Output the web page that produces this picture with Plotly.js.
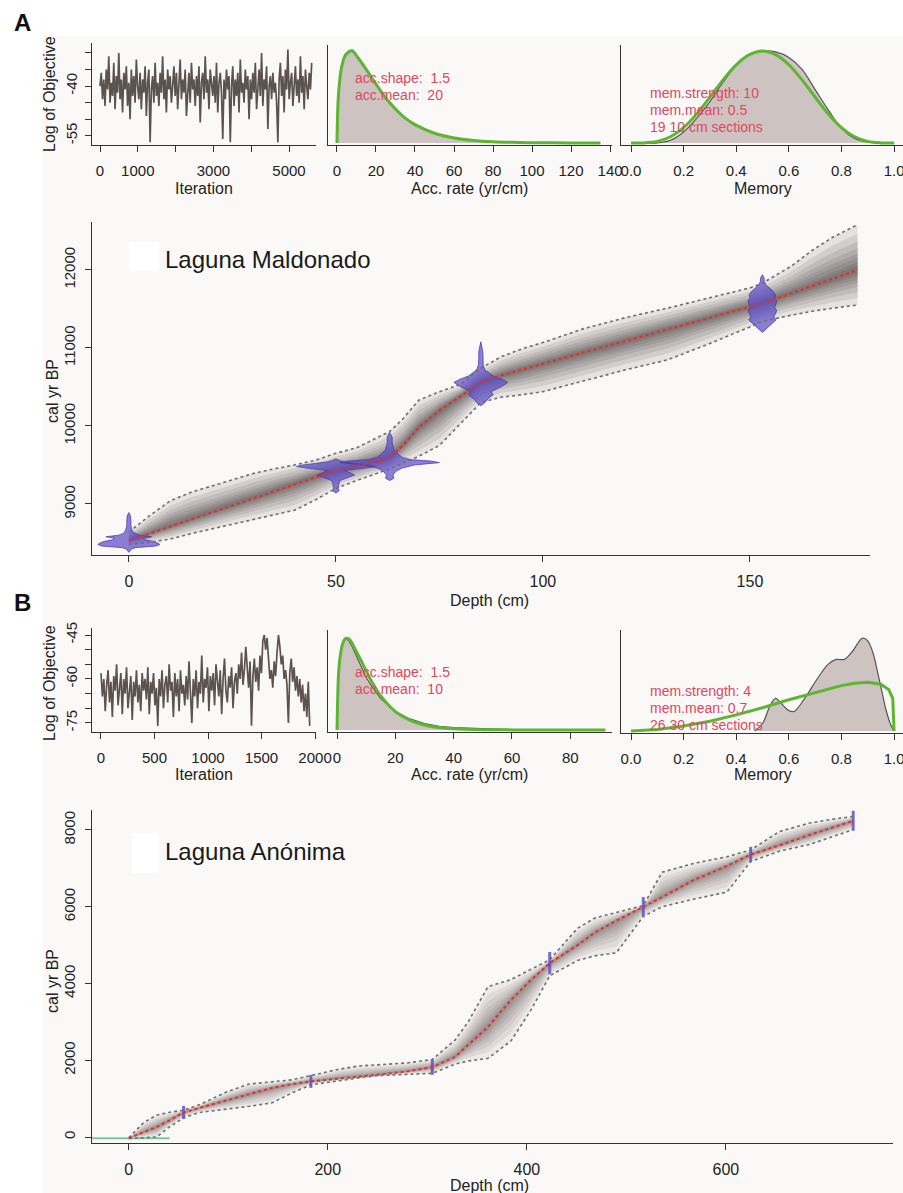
<!DOCTYPE html>
<html><head><meta charset="utf-8">
<script src="https://cdn.plot.ly/plotly-3.0.1.min.js"></script>
<style>html,body{margin:0;padding:0;background:#fff}#chart{width:903px;height:1193px}</style>
</head><body><div id="chart"></div>
<script>
// ---------------- DATA ----------------
// Panel A: MCMC log objective trace (Laguna Maldonado)
const traceA = [-40,-36,-44,-38,-46,-35,-41,-31,-45,-39,-43,-33,-47,-37,-42,-30,-44,-38,-48,-36,
-41,-34,-46,-39,-50,-35,-43,-37,-45,-32,-40,-44,-36,-47,-38,-42,-34,-49,-39,-35,
-57,-41,-37,-45,-33,-43,-39,-46,-36,-42,-31,-44,-38,-48,-35,-41,-37,-45,-40,-34,
-43,-36,-47,-39,-32,-44,-38,-42,-35,-49,-40,-36,-45,-33,-41,-38,-46,-37,-43,-34,
-51,-39,-36,-44,-31,-42,-38,-47,-35,-40,-43,-37,-45,-33,-48,-39,-36,-42,-56,-38,
-44,-35,-41,-37,-57,-40,-34,-46,-38,-43,-36,-48,-32,-42,-39,-45,-35,-41,-37,-50,
-38,-44,-36,-42,-33,-47,-39,-35,-43,-30,-46,-38,-41,-34,-53,-40,-37,-44,-36,-42,
-39,-45,-57,-38,-33,-43,-37,-48,-35,-41,-29,-44,-39,-36,-46,-40,-34,-43,-38,-45,
-31,-42,-37,-47,-35,-40,-44,-36,-41,-33];
const traceA_lastIter = 5600;

// Panel A: accumulation rate prior (green) and posterior (grey)
const accA_x     = [0,0.5,1,2,3,4,6,8,10,12,15,20,25,30,35,40,50,60,70,80,90,100,120,135];
const accA_prior = [0,0.42,0.59,0.78,0.88,0.94,0.99,1.0,0.95,0.89,0.80,0.64,0.49,0.37,0.27,0.20,0.106,0.055,0.028,0.014,0.007,0.003,0.001,0];
const accA_post  = [0,0.40,0.60,0.80,0.90,0.96,1.0,1.01,0.96,0.90,0.80,0.63,0.48,0.36,0.27,0.19,0.10,0.05,0.026,0.013,0.006,0.003,0.001,0];

// Panel A: memory prior / posterior
const memA_x     = [0,0.05,0.1,0.15,0.2,0.25,0.3,0.35,0.4,0.45,0.5,0.55,0.6,0.65,0.7,0.75,0.8,0.85,0.9,0.95,1.0];
const memA_prior = [0,0.001,0.017,0.068,0.168,0.316,0.498,0.686,0.85,0.96,1.0,0.96,0.85,0.686,0.498,0.316,0.168,0.068,0.017,0.001,0];
const memA_post  = [0,0,0,0.03,0.12,0.27,0.45,0.66,0.84,0.96,1.0,0.99,0.93,0.80,0.58,0.36,0.16,0.05,0.01,0,0];

// Panel A: age-depth model
const depthA = [0,5,10,15,20,25,30,35,40,45,50,55,60,63,66,70,75,80,85,90,95,100,110,120,130,140,150,153,160,165,170,176];
const meanA  = [8530,8620,8720,8810,8900,8990,9080,9170,9260,9350,9430,9490,9545,9590,9740,9980,10200,10380,10560,10650,10725,10800,10945,11090,11240,11385,11530,11570,11700,11790,11885,12000];
const upperA = [8640,8850,9040,9150,9230,9310,9390,9450,9500,9560,9650,9720,9850,9930,10080,10330,10440,10530,10740,10890,10990,11070,11250,11390,11510,11640,11770,11830,12050,12250,12420,12580];
const lowerA = [8480,8510,8550,8620,8680,8740,8795,8860,8920,9050,9200,9300,9390,9450,9520,9610,9750,10030,10300,10370,10400,10440,10580,10720,10846,11050,11270,11340,11420,11470,11510,11550];

// Panel A: calibrated dates (depth, age profile, half-width of probability in cm)
const datesA_depth = [0,50,63,85,153];
const datesA_ages = [
  [8380,8420,8440,8460,8480,8500,8520,8540,8560,8580,8600,8620,8640,8680,8720,8780,8850,8890],
  [9140,9170,9200,9250,9300,9340,9370,9400,9430,9460,9480,9500,9520,9540,9560,9580],
  [9300,9330,9370,9420,9460,9500,9530,9550,9570,9600,9640,9700,9780,9860,9920],
  [10260,10300,10350,10400,10440,10480,10520,10560,10600,10640,10680,10720,10780,10850,10950,11080],
  [11200,11240,11280,11320,11360,11400,11440,11480,11520,11560,11600,11640,11680,11720,11760,11800,11850,11900,11940]
];
const datesA_width = [
  [0,0.6,1.5,6.5,7.5,7,6,4,3.5,5.5,2.5,1.5,1,0.7,0.5,0.5,0.4,0],
  [0,0.8,0.6,0.7,1,3,4.5,3.5,2,7,9.5,8,5,2,0.8,0],
  [0,1,0.8,1.5,3,6,12,10,5,3,2,1,0.6,0.6,0],
  [0,1,1.8,3,2.5,4,5.5,6.5,5,3,2,1,0.6,0.5,0.5,0],
  [0,0.8,1.8,2.5,3.3,2.8,3.2,3.5,3,3.3,3.5,3,3.2,2.7,2,1,0.5,0.4,0]
];

// Panel B: MCMC trace (Laguna Anónima)
const traceB = [-58,-66,-60,-71,-62,-57,-68,-61,-73,-59,
-64,-55,-69,-62,-58,-72,-60,-65,-56,-70,
-63,-59,-74,-61,-66,-57,-68,-62,-71,-58,
-64,-60,-67,-56,-72,-61,-65,-58,-69,-63,
-76,-60,-66,-57,-70,-62,-59,-68,-55,-64,
-61,-73,-58,-66,-60,-71,-57,-65,-62,-69,
-59,-67,-54,-63,-75,-60,-66,-57,-70,-61,
-65,-52,-68,-60,-63,-56,-71,-59,-64,-58,
-69,-55,-62,-66,-57,-72,-60,-53,-64,-68,
-59,-63,-56,-70,-61,-58,-65,-55,-60,-51,
-62,-57,-49,-58,-63,-54,-76,-59,-53,-61,
-56,-64,-52,-58,-47,-45,-50,-46,-55,-60,
-57,-63,-54,-59,-51,-45,-49,-55,-52,-60,
-57,-62,-75,-58,-53,-61,-56,-64,-59,-66,
-60,-68,-62,-71,-65,-73,-61,-76];
const traceB_lastIter = 1950;

const accB_x     = [0,0.5,1,2,3,4,5,6,8,10,12,15,20,25,30,35,40,50,60,70,80,92];
const accB_prior = [0,0.6,0.78,0.946,0.995,0.99,0.953,0.89,0.77,0.64,0.52,0.37,0.20,0.106,0.055,0.028,0.014,0.0035,0.001,0,0,0];
const accB_post  = [0,0.62,0.8,0.96,1.0,0.97,0.92,0.85,0.70,0.57,0.47,0.34,0.20,0.12,0.07,0.04,0.025,0.01,0.003,0.001,0,0];

const memB_x     = [0,0.05,0.1,0.2,0.3,0.4,0.5,0.6,0.7,0.8,0.85,0.9,0.95,0.98,0.995,1.0];
const memB_prior = [0,0.005,0.016,0.053,0.105,0.173,0.25,0.336,0.415,0.488,0.513,0.525,0.504,0.444,0.35,0];
const memBpost_x = [0.47,0.5,0.53,0.55,0.57,0.6,0.62,0.66,0.71,0.75,0.78,0.81,0.84,0.88,0.9,0.92,0.94,0.955,0.97,0.987,1.0];
const memB_post  = [0,0.08,0.28,0.35,0.30,0.22,0.21,0.35,0.57,0.72,0.77,0.77,0.85,1.0,0.97,0.84,0.6,0.41,0.22,0.07,0];

const depthB = [0,15,28,40,55,71,98,121,144,164,183,210,231,250,280,305,328,341,361,384,404,423,451,468,490,517,536,568,601,625,654,684,710,728];
const meanB  = [-30,130,260,420,640,760,960,1120,1280,1380,1450,1520,1570,1620,1710,1820,2090,2400,2870,3570,4090,4530,5000,5320,5640,6000,6250,6700,7060,7360,7600,7870,8080,8240];
const upperB = [-20,380,570,640,700,840,1170,1380,1440,1490,1600,1760,1850,1880,1930,2020,2530,3000,3920,4100,4360,4620,5440,5700,5850,6030,6900,7130,7300,7480,7960,8180,8290,8350];
const lowerB = [-40,-20,0,250,500,640,720,800,890,1150,1360,1470,1540,1600,1640,1660,1900,1980,2050,2500,3300,4200,4600,4720,4800,5750,6000,6200,6380,7180,7450,7620,7850,8010];

const datesB_depth = [55,183,305,423,517,625,728];
const datesB_age   = [640,1450,1820,4530,6000,7360,8240];
const datesB_err   = [170,170,200,290,250,200,260];

const surfaceB_depth = [-37,41];
const surfaceB_age   = [-30,-30];

// Tick labels
const iterTicksA = [0,1000,2000,3000,4000,5000], iterLabelsA = ['0','1000','','3000','','5000'];
const logTicksA = [-30,-35,-40,-45,-50,-55], logLabelsA = ['','','-40','','','-55'];
const logTicksB = [-45,-50,-55,-60,-65,-70,-75], logLabelsB = ['-45','','','-60','','','-75'];
const memTicks = [0,0.2,0.4,0.6,0.8,1.0], memLabels = ['0.0','0.2','0.4','0.6','0.8','1.0'];
const ageTicksA = [9000,10000,11000,12000], ageLabelsA = ['9000','10000','11000','12000'];
const ageTicksB = [0,2000,4000,6000,8000], ageLabelsB = ['0','2000','4000','6000','8000'];

// ---------------- HELPERS ----------------
const W = 903, H = 1193;
const PX = p => p / W, PY = p => 1 - p / H;
const FONT = 'Liberation Sans, Arial, Helvetica, sans-serif';
const GREEN = '#5db531', GREYFILL = '#cdc4c1', TRACE = '#5b534f', PINK = '#e0475f';

function axis(px0, px1, range, extra) {
  return Object.assign({
    domain: [PX(px0), PX(px1)], range: range, showline: true, linecolor: '#333', linewidth: 1,
    ticks: 'outside', ticklen: 6, tickwidth: 1, tickcolor: '#333', showgrid: false, zeroline: false,
    tickfont: {family: FONT, size: 15, color: '#222'}, fixedrange: true, automargin: false,
    ticklabeloverflow: 'allow'
  }, extra || {});
}
function yaxis(py0, py1, range, extra) {
  return Object.assign({
    domain: [PY(py1), PY(py0)], range: range, showline: true, linecolor: '#333', linewidth: 1,
    ticks: 'outside', ticklen: 6, tickwidth: 1, tickcolor: '#333', showgrid: false, zeroline: false,
    tickfont: {family: FONT, size: 15, color: '#222'}, fixedrange: true, automargin: false
  }, extra || {});
}
function iterations(n, last) { return Array.from({length: n}, (_, i) => i * last / (n - 1)); }

function bands(depth, mean, upper, lower, xa, ya, alpha) {
  const fr = [1, 0.8, 0.63, 0.48, 0.36, 0.26, 0.17, 0.1];
  return fr.map(f => {
    const up = depth.map((d, i) => mean[i] + f * (upper[i] - mean[i]));
    const lo = depth.map((d, i) => mean[i] - f * (mean[i] - lower[i]));
    return {x: depth.concat(depth.slice().reverse()), y: up.concat(lo.slice().reverse()),
      type: 'scatter', mode: 'lines', fill: 'toself', fillcolor: 'rgba(38,30,30,' + alpha + ')',
      line: {width: 0}, xaxis: xa, yaxis: ya, hoverinfo: 'skip', showlegend: false};
  });
}
function boundLines(depth, upper, lower, xa, ya) {
  return [upper, lower].map(v => ({x: depth, y: v, type: 'scatter', mode: 'lines',
    line: {color: '#6e6e6e', width: 1.6, dash: 'dot'}, xaxis: xa, yaxis: ya, hoverinfo: 'skip', showlegend: false}));
}
function meanLine(depth, mean, xa, ya) {
  return {x: depth, y: mean, type: 'scatter', mode: 'lines', line: {color: '#ee2b22', width: 2, dash: 'dot'},
    xaxis: xa, yaxis: ya, hoverinfo: 'skip', showlegend: false};
}

const traces = [];
// A1 trace
traces.push({x: iterations(traceA.length, traceA_lastIter), y: traceA, type: 'scatter', mode: 'lines',
  line: {color: TRACE, width: 1.7}, xaxis: 'x', yaxis: 'y', showlegend: false});
// A2 acc
traces.push({x: accA_x, y: accA_post, type: 'scatter', mode: 'lines', fill: 'tozeroy', fillcolor: GREYFILL,
  line: {color: '#555', width: 1.2}, xaxis: 'x2', yaxis: 'y2', showlegend: false});
traces.push({x: accA_x, y: accA_prior, type: 'scatter', mode: 'lines', line: {color: GREEN, width: 3, shape: 'spline'},
  xaxis: 'x2', yaxis: 'y2', showlegend: false});
// A3 memory
traces.push({x: memA_x, y: memA_post, type: 'scatter', mode: 'lines', fill: 'tozeroy', fillcolor: GREYFILL,
  line: {color: '#555', width: 1.2, shape: 'spline'}, xaxis: 'x3', yaxis: 'y3', showlegend: false});
traces.push({x: memA_x, y: memA_prior, type: 'scatter', mode: 'lines', line: {color: GREEN, width: 3, shape: 'spline'},
  xaxis: 'x3', yaxis: 'y3', showlegend: false});
// A4 age model
bands(depthA, meanA, upperA, lowerA, 'x4', 'y4', 0.1).forEach(t => traces.push(t));
datesA_depth.forEach((d, k) => {
  const ages = datesA_ages[k], w = datesA_width[k];
  const xs = ages.map((a, i) => d + w[i]).concat(ages.map((a, i) => d - w[i]).reverse());
  const ys = ages.concat(ages.slice().reverse());
  traces.push({x: xs, y: ys, type: 'scatter', mode: 'lines', fill: 'toself',
    fillcolor: 'rgba(88,72,196,0.7)', line: {color: 'rgba(70,52,170,0.9)', width: 0.8},
    xaxis: 'x4', yaxis: 'y4', hoverinfo: 'skip', showlegend: false});
});
boundLines(depthA, upperA, lowerA, 'x4', 'y4').forEach(t => traces.push(t));
traces.push(meanLine(depthA, meanA, 'x4', 'y4'));

// B1 trace
traces.push({x: iterations(traceB.length, traceB_lastIter), y: traceB, type: 'scatter', mode: 'lines',
  line: {color: TRACE, width: 1.7}, xaxis: 'x5', yaxis: 'y5', showlegend: false});
// B2 acc
traces.push({x: accB_x, y: accB_post, type: 'scatter', mode: 'lines', fill: 'tozeroy', fillcolor: GREYFILL,
  line: {color: '#555', width: 1.2}, xaxis: 'x6', yaxis: 'y6', showlegend: false});
traces.push({x: accB_x, y: accB_prior, type: 'scatter', mode: 'lines', line: {color: GREEN, width: 3, shape: 'spline'},
  xaxis: 'x6', yaxis: 'y6', showlegend: false});
// B3 memory
traces.push({x: memBpost_x, y: memB_post, type: 'scatter', mode: 'lines', fill: 'tozeroy', fillcolor: GREYFILL,
  line: {color: '#555', width: 1.2, shape: 'spline'}, xaxis: 'x7', yaxis: 'y7', showlegend: false});
traces.push({x: memB_x, y: memB_prior, type: 'scatter', mode: 'lines', line: {color: GREEN, width: 3},
  xaxis: 'x7', yaxis: 'y7', showlegend: false});
// B4 age model
bands(depthB, meanB, upperB, lowerB, 'x8', 'y8', 0.07).forEach(t => traces.push(t));
traces.push({x: surfaceB_depth, y: surfaceB_age, type: 'scatter', mode: 'lines', line: {color: '#7cc3b0', width: 2},
  xaxis: 'x8', yaxis: 'y8', hoverinfo: 'skip', showlegend: false});
datesB_depth.forEach((d, k) => {
  traces.push({x: [d, d], y: [datesB_age[k] - datesB_err[k], datesB_age[k] + datesB_err[k]], type: 'scatter', mode: 'lines',
    line: {color: 'rgba(88,72,200,0.8)', width: 3}, xaxis: 'x8', yaxis: 'y8', hoverinfo: 'skip', showlegend: false});
});
boundLines(depthB, upperB, lowerB, 'x8', 'y8').forEach(t => traces.push(t));
traces.push(meanLine(depthB, meanB, 'x8', 'y8'));

// ---------------- LAYOUT ----------------
const noY = {ticks: '', showticklabels: false};
const layout = {
  width: W, height: H, margin: {l: 0, r: 0, t: 0, b: 0},
  paper_bgcolor: '#ffffff', plot_bgcolor: 'rgba(0,0,0,0)',
  font: {family: FONT, color: '#222'}, showlegend: false,
  xaxis:  axis(92, 316, [-212, 5714], {anchor: 'y', tickvals: iterTicksA, ticktext: iterLabelsA, ticklabelstandoff: 6}),
  yaxis:  yaxis(43, 145, [-57.8, -27], {anchor: 'x', tickvals: logTicksA, ticktext: logLabelsA, tickangle: -90, ticklabelstandoff: 2}),
  xaxis2: axis(328, 612, [-4.6, 141], {anchor: 'y2', tickvals: [0,20,40,60,80,100,120,140], ticklabelstandoff: 6}),
  yaxis2: yaxis(45, 145, [-0.022, 1.065], Object.assign({anchor: 'x2'}, noY)),
  xaxis3: axis(621, 903, [-0.038, 1.034], {anchor: 'y3', tickvals: memTicks, ticktext: memLabels, ticklabelstandoff: 6}),
  yaxis3: yaxis(45, 145, [-0.022, 1.065], Object.assign({anchor: 'x3'}, noY)),
  xaxis4: axis(92, 870, [-8.9, 179], {anchor: 'y4', tickvals: [0,50,100,150], ticklabelstandoff: 6, tickfont: {family: FONT, size: 16, color: '#222'}}),
  yaxis4: yaxis(222, 555, [8346, 12615], {anchor: 'x4', tickvals: ageTicksA, ticktext: ageLabelsA, tickangle: -90, ticklabelstandoff: 4, tickfont: {family: FONT, size: 15, color: '#222'}}),
  xaxis5: axis(92, 316, [-84, 2009], {anchor: 'y5', tickvals: [0,500,1000,1500,2000], ticklabelstandoff: 6}),
  yaxis5: yaxis(628, 732, [-78.1, -42.6], {anchor: 'x5', tickvals: logTicksB, ticktext: logLabelsB, tickangle: -90, ticklabelstandoff: 2}),
  xaxis6: axis(328, 612, [-3.1, 94.3], {anchor: 'y6', tickvals: [0,20,40,60,80], ticklabelstandoff: 6}),
  yaxis6: yaxis(630, 732, [-0.022, 1.087], Object.assign({anchor: 'x6'}, noY)),
  xaxis7: axis(621, 903, [-0.038, 1.034], {anchor: 'y7', tickvals: memTicks, ticktext: memLabels, ticklabelstandoff: 6}),
  yaxis7: yaxis(630, 733, [-0.022, 1.087], Object.assign({anchor: 'x7'}, noY)),
  xaxis8: axis(92, 893, [-37, 768], {anchor: 'y8', tickvals: [0,200,400,600], ticklabelstandoff: 6, tickfont: {family: FONT, size: 16, color: '#222'}}),
  yaxis8: yaxis(810, 1143, [-156, 8520], {anchor: 'x8', tickvals: ageTicksB, ticktext: ageLabelsB, tickangle: -90, ticklabelstandoff: 4, tickfont: {family: FONT, size: 15, color: '#222'}}),
  shapes: [
    {type: 'rect', xref: 'paper', yref: 'paper', x0: PX(43), x1: 1, y0: 0, y1: PY(36), fillcolor: '#fbf9f7', line: {width: 0}, layer: 'below'},
    {type: 'rect', xref: 'paper', yref: 'paper', x0: PX(129), x1: PX(159), y0: PY(271), y1: PY(242), fillcolor: '#ffffff', line: {width: 0}, layer: 'above'},
    {type: 'rect', xref: 'paper', yref: 'paper', x0: PX(132), x1: PX(159), y0: PY(873), y1: PY(833), fillcolor: '#ffffff', line: {width: 0}, layer: 'above'}
  ],
  annotations: []
};
function ann(text, x, y, o) {
  o = o || {};
  layout.annotations.push({text: text, x: PX(x), y: PY(y), xref: 'paper', yref: 'paper', showarrow: false,
    xanchor: o.xanchor || 'center', yanchor: 'middle', textangle: o.angle || 0,
    font: {family: FONT, size: o.size || 16, color: o.color || '#222'}});
}
ann('<b>A</b>', 22, 23, {size: 24, color: '#111'});
ann('<b>B</b>', 22, 603, {size: 24, color: '#111'});
ann('Log of Objective', 49, 94, {angle: -90, size: 16});
ann('Log of Objective', 49, 683, {angle: -90, size: 16});
ann('Iteration', 204, 188); ann('Iteration', 204, 774);
ann('Acc. rate (yr/cm)', 469, 188); ann('Acc. rate (yr/cm)', 469, 774);
ann('Memory', 763, 188); ann('Memory', 763, 774);
ann('acc.shape:  1.5', 353, 78, {xanchor: 'left', size: 14, color: PINK});
ann('acc.mean:  20', 353, 95, {xanchor: 'left', size: 14, color: PINK});
ann('mem.strength: 10', 648, 93, {xanchor: 'left', size: 14, color: PINK});
ann('mem.mean: 0.5', 648, 110, {xanchor: 'left', size: 14, color: PINK});
ann('19 10 cm sections', 648, 127, {xanchor: 'left', size: 14, color: PINK});
ann('acc.shape:  1.5', 353, 672, {xanchor: 'left', size: 14, color: PINK});
ann('acc.mean:  10', 353, 689, {xanchor: 'left', size: 14, color: PINK});
ann('mem.strength: 4', 648, 691, {xanchor: 'left', size: 14, color: PINK});
ann('mem.mean: 0.7', 648, 708, {xanchor: 'left', size: 14, color: PINK});
ann('26 30 cm sections', 648, 725, {xanchor: 'left', size: 14, color: PINK});
ann('Laguna Maldonado', 163, 259, {xanchor: 'left', size: 24, color: '#1a1a1a'});
ann('Laguna Anónima', 163, 851, {xanchor: 'left', size: 24, color: '#1a1a1a'});
ann('Depth (cm)', 490, 600); ann('Depth (cm)', 490, 1185);
ann('cal yr BP', 52, 391, {angle: -90, size: 16});
ann('cal yr BP', 52, 981, {angle: -90, size: 16});

Plotly.newPlot('chart', traces, layout, {staticPlot: true, displayModeBar: false});
</script></body></html>
